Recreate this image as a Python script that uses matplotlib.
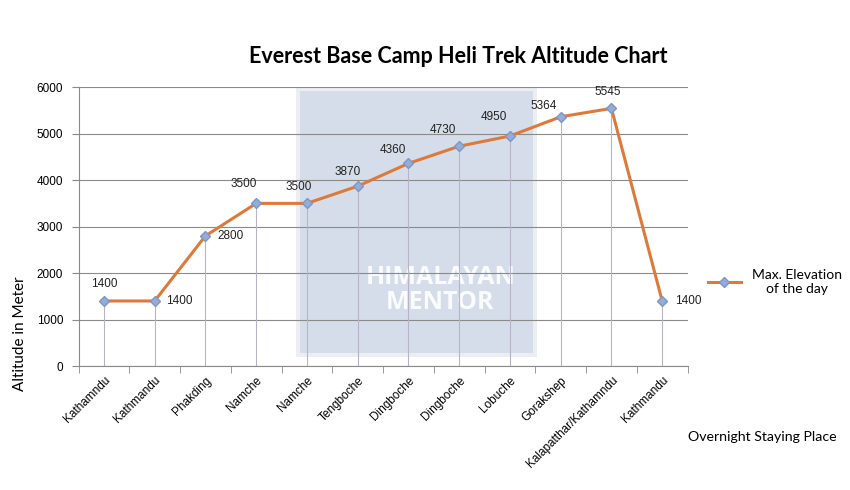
import matplotlib
matplotlib.use('Agg')
import matplotlib.pyplot as plt
from matplotlib.patches import Rectangle

# data
places = ['Kathamndu', 'Kathmandu', 'Phakding', 'Namche', 'Namche', 'Tengboche',
          'Dingboche', 'Dingboche', 'Lobuche', 'Gorakshep',
          'Kalapatthar/Kathamndu', 'Kathmandu']
elevation = [1400, 1400, 2800, 3500, 3500, 3870, 4360, 4730, 4950, 5364, 5545, 1400]
yticks = [0, 1000, 2000, 3000, 4000, 5000, 6000]

# label offsets in pixels (style only)
label_off = [(0, 17), (25, 0), (25, 0), (-12, 19), (-8, 16), (-10, 14),
             (-16, 13), (-16, 16), (-16, 19), (-17, 11), (-4, 16), (26, 0)]

fig = plt.figure(figsize=(8.5, 4.9), dpi=100)
ax = fig.add_axes([0.0924, 0.253, 0.7165, 0.569])

x = list(range(len(places)))

# watermark box behind the data
ax.add_patch(Rectangle((3.79, 190), 4.75, 5810, facecolor='#eceef2',
                       edgecolor='none', zorder=0))
ax.add_patch(Rectangle((3.87, 290), 4.59, 5620, facecolor='#d3dcea',
                       edgecolor='none', alpha=0.9, zorder=0))
ax.text(6.63, 1640, 'HIMALAYAN\nMENTOR', ha='center', va='center', color='white',
        fontsize=18, fontweight='bold', family='Open Sans', linespacing=1.0,
        alpha=0.9, zorder=0.5)

ax.set_xlim(-0.5, len(places) - 0.5)
ax.set_ylim(0, 6000)
ax.set_yticks(yticks)
ax.yaxis.grid(True, color='#8a8a8a', linewidth=0.8)
ax.set_axisbelow(True)

# drop lines
ax.vlines(x, 0, elevation, color='#b9b3c9', linewidth=0.8, zorder=1)

ax.plot(x, elevation, color='#dd7a3a', linewidth=2.2, marker='D', markersize=5.5,
        markerfacecolor='#94acd6', markeredgecolor='#7d97c4', zorder=3,
        label='Max. Elevation\nof the day')

for xi, v, off in zip(x, elevation, label_off):
    ax.annotate(str(v), (xi, v), xytext=off, textcoords='offset pixels',
                ha='center', va='center', fontsize=8.5, family='Liberation Sans',
                color='#222222', zorder=4)

for s in ['top', 'right']:
    ax.spines[s].set_visible(False)
for s in ['left', 'bottom']:
    ax.spines[s].set_color('#8a8a8a')

ax.set_xticks(x)
ax.set_xticklabels(places, rotation=45, ha='right', rotation_mode='anchor',
                   fontsize=8.5, family='Liberation Sans')
ax.set_xticks([i - 0.5 for i in range(len(places) + 1)], minor=True)
ax.tick_params(axis='x', which='major', length=0, pad=6)
ax.tick_params(axis='x', which='minor', length=5, color='#8a8a8a')
ax.tick_params(axis='y', length=5, color='#8a8a8a', labelsize=8.5, pad=6)
for t in ax.get_yticklabels():
    t.set_family('Liberation Sans')

fig.text(0.539, 0.884, 'Everest Base Camp Heli Trek Altitude Chart', ha='center',
         va='center', fontsize=15.5, fontweight='bold', family='Lato')
fig.text(0.023, 0.32, 'Altitude in Meter', rotation=90, ha='center', va='center',
         fontsize=11, family='Lato')
fig.text(0.809, 0.108, 'Overnight Staying Place', ha='left', va='center',
         fontsize=10.2, family='Lato')

leg = ax.legend(loc='center left', bbox_to_anchor=(0.818, 0.425),
                bbox_transform=fig.transFigure, frameon=False,
                prop={'family': 'Lato', 'size': 10}, handlelength=2.4)
leg.get_texts()[0].set_multialignment('center')

fig.savefig('out.png', dpi=100)
